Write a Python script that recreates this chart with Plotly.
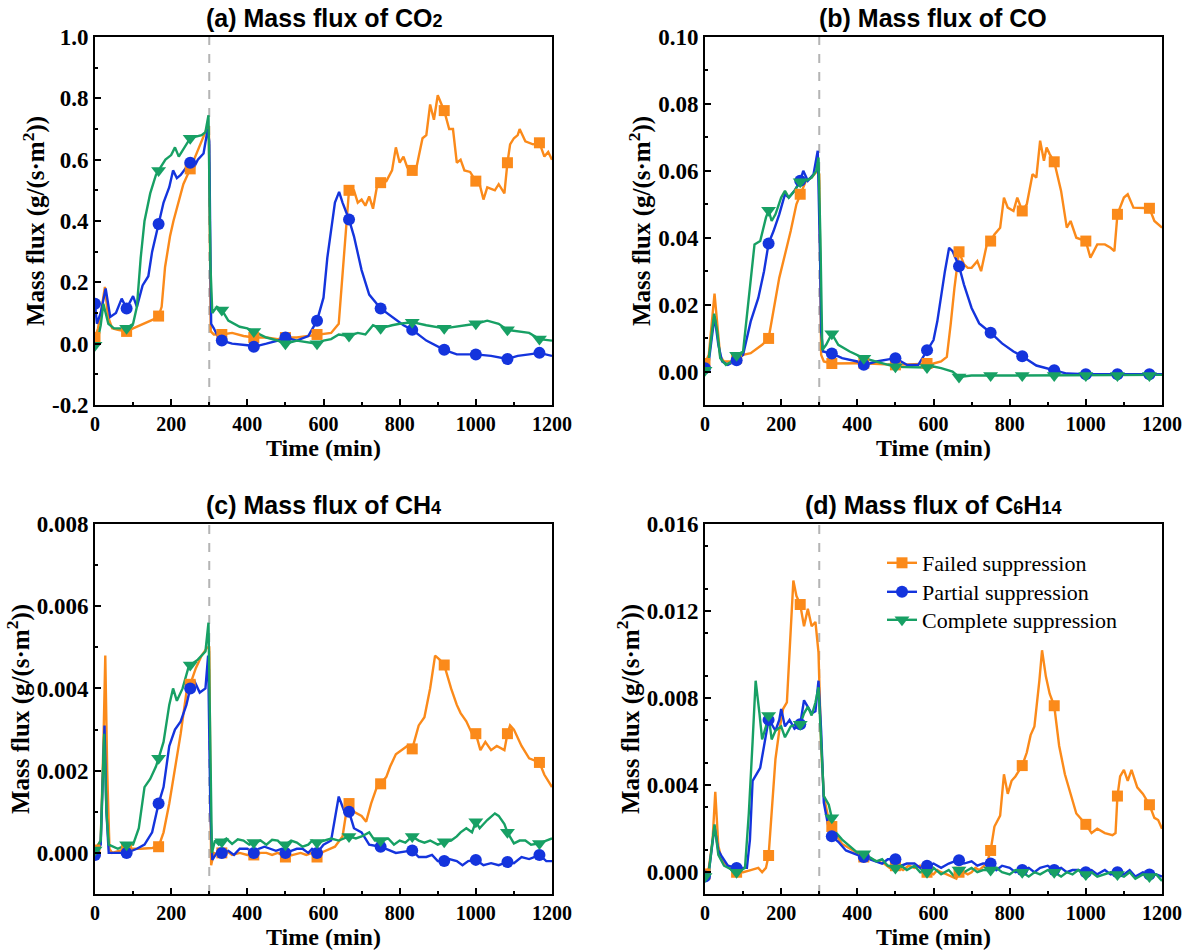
import plotly.graph_objects as go

# ---------------- data ----------------
MARK_T = [0, 83, 167, 250, 333, 417, 500, 583, 667, 750, 833, 917, 1000, 1083, 1167]

# (a) CO2
A_FAIL_T = [0, 8, 18, 26, 34, 45, 60, 83, 100, 120, 140, 155, 167, 175, 184, 197, 206, 219, 232, 250,
            267, 280, 293, 299, 304, 312, 333, 360, 390, 417, 450, 480, 500, 530, 560, 583, 600, 620, 640, 650,
            660, 667, 680, 690, 700, 710, 720, 730, 740, 750, 765, 780, 790, 800, 810, 820, 833, 840, 850, 860,
            870, 880, 890, 900, 910, 917, 930, 940, 950, 960, 970, 985, 1000, 1010, 1020, 1030, 1050, 1060, 1075, 1083,
            1090, 1100, 1110, 1115, 1130, 1150, 1167, 1180, 1190, 1200]
A_FAIL_V = [0.02, 0.05, 0.12, 0.185, 0.09, 0.05, 0.045, 0.04, 0.05, 0.06, 0.07, 0.08, 0.09, 0.12, 0.25, 0.35, 0.40, 0.46, 0.52, 0.57,
            0.62, 0.66, 0.70, 0.71, 0.04, 0.03, 0.03, 0.035, 0.025, 0.02, 0.02, 0.015, 0.02, 0.02, 0.025, 0.03, 0.033, 0.035, 0.065, 0.23,
            0.41, 0.50, 0.50, 0.46, 0.47, 0.45, 0.48, 0.44, 0.51, 0.525, 0.53, 0.565, 0.64, 0.59, 0.61, 0.575, 0.565, 0.55, 0.61, 0.67,
            0.68, 0.78, 0.73, 0.81, 0.78, 0.76, 0.70, 0.70, 0.59, 0.60, 0.565, 0.56, 0.53, 0.52, 0.47, 0.51, 0.50, 0.52, 0.49, 0.59,
            0.65, 0.67, 0.68, 0.70, 0.66, 0.65, 0.655, 0.61, 0.625, 0.60]
A_PART_T = [0, 5, 15, 28, 40, 55, 70, 83, 100, 110, 125, 140, 150, 167, 180, 195, 205, 215, 225, 240,
            250, 262, 270, 285, 296, 300, 305, 312, 320, 333, 360, 400, 417, 450, 480, 500, 530, 560, 583, 600,
            610, 620, 630, 641, 650, 667, 680, 700, 720, 750, 780, 810, 833, 870, 917, 950, 1000, 1040, 1083, 1110,
            1140, 1167, 1200]
A_PART_V = [0.13, 0.065, 0.10, 0.18, 0.087, 0.10, 0.147, 0.115, 0.155, 0.12, 0.19, 0.22, 0.30, 0.39, 0.46, 0.51, 0.565, 0.54, 0.55, 0.575,
            0.59, 0.58, 0.60, 0.62, 0.70, 0.66, 0.065, 0.05, 0.03, 0.01, 0.0, -0.005, -0.01, 0.0, 0.01, 0.02, 0.01, 0.025, 0.075, 0.15,
            0.28, 0.37, 0.46, 0.495, 0.46, 0.405, 0.35, 0.24, 0.16, 0.115, 0.087, 0.06, 0.045, 0.01, -0.02, -0.035, -0.035, -0.04, -0.05, -0.04,
            -0.035, -0.03, -0.04]
A_COMP_T = [0, 5, 15, 22, 35, 50, 70, 83, 100, 110, 120, 130, 145, 160, 167, 185, 200, 210, 220, 240,
            250, 265, 280, 290, 298, 303, 308, 320, 333, 350, 380, 400, 417, 450, 480, 500, 530, 560, 583, 600,
            620, 640, 667, 690, 710, 730, 750, 780, 800, 833, 870, 917, 950, 1000, 1030, 1060, 1083, 1110, 1140, 1167,
            1200]
A_COMP_V = [-0.005, 0.0, 0.06, 0.13, 0.065, 0.05, 0.05, 0.05, 0.065, 0.12, 0.28, 0.40, 0.49, 0.55, 0.565, 0.60, 0.615, 0.64, 0.61, 0.65,
            0.67, 0.675, 0.68, 0.69, 0.745, 0.26, 0.10, 0.12, 0.11, 0.075, 0.055, 0.05, 0.04, 0.02, 0.01, 0.0, 0.01, 0.005, 0.0, 0.01,
            0.015, 0.03, 0.025, 0.035, 0.03, 0.06, 0.05, 0.06, 0.065, 0.07, 0.06, 0.05, 0.055, 0.065, 0.075, 0.065, 0.045, 0.04, 0.035, 0.015,
            0.01]

# (b) CO
B_FAIL_T = [0, 10, 25, 33, 40, 50, 70, 83, 100, 120, 150, 167, 175, 185, 195, 210, 225, 240, 250, 265,
            280, 295, 300, 305, 312, 333, 400, 417, 500, 583, 600, 620, 635, 645, 655, 667, 680, 690, 700, 715,
            725, 740, 750, 760, 775, 785, 795, 810, 820, 833, 845, 860, 870, 880, 890, 897, 905, 917, 935, 950,
            960, 975, 1000, 1012, 1030, 1050, 1065, 1075, 1083, 1100, 1110, 1125, 1150, 1167, 1180, 1200]
B_FAIL_V = [0.0024, 0.005, 0.0233, 0.013, 0.0045, 0.003, 0.003, 0.004, 0.005, 0.0055, 0.008, 0.0099, 0.015, 0.022, 0.028, 0.035, 0.042, 0.050, 0.053, 0.057,
            0.058, 0.060, 0.059, 0.005, 0.003, 0.0024, 0.0025, 0.0025, 0.002, 0.0024, 0.0024, 0.003, 0.0044, 0.014, 0.025, 0.0358, 0.032, 0.031, 0.031, 0.033,
            0.030, 0.038, 0.039, 0.041, 0.043, 0.052, 0.049, 0.048, 0.052, 0.048, 0.050, 0.059, 0.058, 0.069, 0.063, 0.067, 0.065, 0.0627, 0.054, 0.043,
            0.045, 0.040, 0.039, 0.034, 0.038, 0.038, 0.037, 0.036, 0.047, 0.052, 0.053, 0.049, 0.049, 0.0488, 0.045, 0.043]
B_PART_T = [0, 10, 25, 35, 45, 60, 83, 100, 120, 140, 155, 167, 180, 195, 210, 220, 235, 250, 258, 270,
            285, 296, 302, 305, 310, 333, 360, 400, 417, 450, 500, 530, 560, 583, 600, 610, 620, 630, 641, 650,
            667, 680, 700, 720, 750, 780, 810, 833, 870, 917, 950, 1000, 1083, 1167, 1200]
B_PART_V = [0.001, 0.003, 0.0165, 0.008, 0.003, 0.002, 0.0034, 0.005, 0.015, 0.022, 0.030, 0.0383, 0.042, 0.047, 0.053, 0.052, 0.054, 0.057, 0.060, 0.057,
            0.059, 0.066, 0.035, 0.012, 0.006, 0.0054, 0.004, 0.003, 0.002, 0.003, 0.004, 0.002, 0.002, 0.0064, 0.0094, 0.015, 0.023, 0.030, 0.037, 0.036,
            0.0315, 0.026, 0.019, 0.0144, 0.0116, 0.0084, 0.006, 0.0046, 0.0018, 0.0004, -0.0006, -0.0008, -0.0008, -0.0008, -0.0008]
B_COMP_T = [0, 10, 24, 32, 40, 55, 70, 83, 100, 115, 130, 145, 160, 167, 175, 185, 200, 210, 220, 235,
            250, 265, 280, 292, 298, 303, 308, 318, 333, 350, 380, 417, 450, 500, 583, 600, 620, 650, 667, 700,
            750, 833, 917, 1000, 1083, 1167, 1200]
B_COMP_V = [0.0004, 0.004, 0.0173, 0.012, 0.004, 0.002, 0.003, 0.0049, 0.006, 0.022, 0.038, 0.039, 0.046, 0.0482, 0.045, 0.047, 0.052, 0.054, 0.052, 0.054,
            0.0567, 0.057, 0.058, 0.060, 0.064, 0.04, 0.0064, 0.008, 0.0113, 0.008, 0.006, 0.004, 0.003, 0.0014, 0.0012, 0.0015, 0.001, 0.0, -0.0016, -0.0012,
            -0.0012, -0.0012, -0.0012, -0.0012, -0.0012, -0.0012, -0.001]

# (c) CH4
C_FAIL_T = [0, 15, 22, 27, 32, 38, 45, 83, 120, 150, 167, 180, 195, 210, 225, 240, 250, 265, 280, 295,
            300, 305, 312, 325, 333, 345, 360, 380, 400, 417, 435, 450, 465, 480, 500, 520, 540, 555, 570, 583,
            600, 630, 650, 660, 667, 680, 700, 712, 725,
            740, 750, 765, 775, 790, 805, 820, 833, 850, 865, 880, 893, 905, 917, 935, 950, 960, 975, 990, 1000,
            1012, 1025, 1040, 1055, 1075, 1083, 1090, 1100, 1120, 1140, 1167, 1180, 1200]
C_FAIL_V = [0.00007, 0.0003, 0.0026, 0.0048, 0.002, 0.0001, 0.0, 0.0001, 0.0001, 0.00012, 0.00015, 0.0005, 0.0012, 0.002, 0.0029, 0.0039, 0.0041, 0.0045, 0.0048, 0.005,
            0.005, -0.0003, 0.0, -0.00005, 0.0, 0.00005, -0.00005, 0.0, -0.00005, -0.00005, 0.0, 0.0, -0.00005, 0.0, -0.0001, -0.00005, 0.0, -0.00005, 0.0, -0.0001,
            0.00003, 0.00015, 0.0004, 0.001, 0.0012, 0.001, 0.0009, 0.00076, 0.0012,
            0.0016, 0.00168, 0.00185, 0.0021, 0.0024, 0.0025, 0.0026, 0.00253, 0.0031, 0.0033, 0.004, 0.0048, 0.0047, 0.00457, 0.004, 0.0036, 0.0034, 0.0032, 0.0029, 0.0029,
            0.0025, 0.0027, 0.0025, 0.0026, 0.0025, 0.0029, 0.0031, 0.003, 0.0026, 0.0023, 0.0022, 0.0019, 0.0016]
C_PART_T = [0, 15, 25, 30, 36, 60, 83, 110, 130, 150, 167, 180, 195, 210, 225, 240, 250, 260, 275, 290,
            297, 303, 308, 320, 333, 350, 365, 380, 400, 417, 430, 445, 460, 475, 490, 500, 515, 530, 545, 560,
            570, 583, 600, 620, 640, 655, 667, 680, 700, 720, 750, 790,
            833, 850, 870, 885, 900, 917, 930, 950, 965, 980, 1000, 1020, 1040, 1060, 1083, 1100, 1120, 1140, 1155, 1167, 1185, 1200]
C_PART_V = [-0.00005, 0.0002, 0.0031, 0.001, 0.0, 0.0, 0.0, 0.0001, 0.0002, 0.0005, 0.0012, 0.0016, 0.0026, 0.003, 0.0032, 0.0036, 0.004, 0.0042, 0.0039, 0.004,
            0.0048, 0.001, -0.00017, 0.0, 0.0, 0.00005, -0.00005, 0.0001, 0.0001, 0.0, 0.0001, 0.00015, 0.0001, 0.00005, 0.0001, 0.0, 0.00005, 0.0001, 0.0001, 0.0,
            0.0001, 0.0, 0.0002, 0.0003, 0.00137, 0.001, 0.001, 0.0006, 0.0005, 0.0002, 0.00015, 0.0,
            0.00006, -0.0001, -0.0001, -0.00005, -0.0002, -0.0002, -0.00015, -0.0002, -0.0003, -0.0002, -0.00017, -0.0003, -0.00025, -0.0003, -0.00022, -0.00025, -0.0001, -0.00015, -0.0001, -0.00005, -0.0002, -0.0002]
C_COMP_T = [0, 15, 24, 30, 36, 60, 83, 100, 115, 130, 145, 160, 167, 180, 195, 205, 215, 230, 245, 250,
            270, 290, 298, 303, 307, 315, 325, 333, 345, 360, 375, 390, 405, 417, 435, 450, 465, 480, 490, 500,
            515, 530, 545, 560, 570, 583, 600, 620, 640, 667, 685, 700, 720, 735, 750, 770, 785, 800, 815, 833,
            850, 865, 880, 900, 917, 935, 950, 960, 975, 990, 1000, 1010, 1030, 1050, 1060, 1075, 1083, 1100, 1115, 1130,
            1145, 1167, 1185, 1200]
C_COMP_V = [0.00007, 0.0003, 0.0029, 0.001, 0.0002, 0.0001, 0.0002, 0.0002, 0.0006, 0.0016, 0.0018, 0.0021, 0.0023, 0.0027, 0.0036, 0.004, 0.0037, 0.004, 0.0045, 0.00457,
            0.0047, 0.0049, 0.0056, 0.002, 0.0, 0.0003, 0.0002, 0.00027, 0.00035, 0.00022, 0.00033, 0.0003, 0.0002, 0.00025, 0.0003, 0.0002, 0.00032, 0.0003, 0.0002, 0.0002,
            0.0003, 0.00025, 0.00015, 0.0002, 0.0003, 0.00025, 0.0003, 0.00035, 0.0003, 0.0004, 0.00035, 0.0004, 0.0005, 0.0003, 0.0003, 0.00035, 0.0002, 0.0003, 0.00025, 0.0004,
            0.0003, 0.00025, 0.0003, 0.0002, 0.00027, 0.0003, 0.0004, 0.0005, 0.0006, 0.0005, 0.00076, 0.0006, 0.0008, 0.00096, 0.0009, 0.0007, 0.0005, 0.00023, 0.0003, 0.0003,
            0.0002, 0.00023, 0.0003, 0.00035]

# (d) C6H14
D_FAIL_T = [0, 10, 20, 27, 35, 45, 60, 75, 83, 100, 120, 140, 150, 160, 167, 175, 185, 195, 205, 215,
            222, 232, 240, 250, 260, 270, 280, 290, 298, 305, 312, 325, 333, 340, 360, 380,
            400, 417, 435, 450, 470, 485, 500, 520, 535, 550, 565, 583, 600, 610, 620, 635, 650, 660, 667, 680,
            690, 700, 710, 720, 740, 750, 760, 775, 785, 795, 805, 815, 833, 845,
            855, 865, 878, 885, 895, 905, 917, 930, 945, 960, 975, 990, 1000, 1015, 1030, 1050, 1070, 1078, 1083, 1090,
            1100, 1110, 1120, 1135, 1150, 1167, 1180, 1190, 1200]
D_FAIL_V = [-0.00008, 0.0002, 0.0015, 0.0037, 0.0012, 0.0005, 0.0003, 0.0, 0.0, 0.0, 0.0001, 0.0002, 0.0, 0.0002, 0.00077, 0.0027, 0.0052, 0.0065, 0.0075, 0.0078,
            0.0104, 0.0134, 0.0127, 0.0123, 0.0113, 0.0121, 0.0113, 0.0115, 0.0101, 0.0058, 0.0035, 0.0024, 0.0021, 0.0018, 0.0013, 0.0011,
            0.0009, 0.0007, 0.0006, 0.0005, 0.0004, 0.0002, 0.0003, 0.0001, 0.0003, 0.0002, 0.0003, 0.0, -0.0001, 0.0001, 0.0, -0.0001, -0.0002, -0.0003, 0.0, 0.0,
            -0.0001, 0.0, 0.0002, 0.0001, 0.0004, 0.001, 0.0021, 0.0026, 0.0045, 0.0036, 0.0042, 0.0044, 0.0049, 0.0055,
            0.0063, 0.0067, 0.0088, 0.0102, 0.009, 0.0082, 0.00765, 0.0058, 0.0045, 0.0036, 0.0027, 0.0024, 0.0022, 0.0018, 0.002, 0.0018, 0.0017, 0.0018, 0.0035, 0.0044,
            0.0047, 0.0042, 0.0047, 0.0039, 0.0036, 0.0031, 0.0025, 0.0024, 0.002]
D_PART_T = [0, 10, 25, 35, 45, 60, 83, 100, 110, 118, 125, 135, 145, 155, 167, 175, 185, 195, 200, 210,
            222, 235, 250, 260, 270, 280, 290, 298, 305, 312, 325, 333, 350, 370,
            400, 417, 430, 450, 465, 480, 500, 515, 530, 550, 565, 583, 600, 620, 640, 655, 667, 680, 700, 715,
            730, 750, 765, 780, 800, 815, 833, 850, 865, 880, 900, 917, 935, 950, 965, 980, 1000, 1015, 1030, 1050,
            1065, 1083, 1100, 1115, 1130, 1150, 1167, 1185, 1200]
D_PART_V = [-0.0002, 0.0, 0.0021, 0.001, 0.0007, 0.0003, 0.0002, 0.0002, 0.0002, 0.0015, 0.0042, 0.0045, 0.0048, 0.0058, 0.007, 0.0068, 0.0065, 0.007, 0.0075, 0.0067,
            0.007, 0.0066, 0.0068, 0.0079, 0.0076, 0.0073, 0.0074, 0.0088, 0.0065, 0.0032, 0.002, 0.00165, 0.0014, 0.001,
            0.0008, 0.0007, 0.0006, 0.0005, 0.0004, 0.0006, 0.0006, 0.0003, 0.0004, 0.0004, 0.0002, 0.0003, 0.0004, 0.0002, 0.0004, 0.0005, 0.00055, 0.0004, 0.0005, 0.0003,
            0.0004, 0.0004, 0.0001, 0.0003, 0.0002, 0.0, 0.0001, 0.0002, 0.0, 0.0002, 0.0003, 0.0001, 0.0002, 0.0, 0.0001, 0.0001, 0.0, 0.0001, -0.0001, 0.0001,
            -0.0001, 0.0, -0.0001, 0.0001, -0.0002, 0.0, -0.0001, -0.0001, -0.0002]
D_COMP_T = [0, 10, 25, 35, 50, 83, 105, 115, 125, 133, 143, 150, 160, 167, 175, 185, 200, 210, 225, 240,
            250, 260, 270, 280, 290, 298, 305, 312, 325, 333, 345, 360, 380,
            400, 417, 430, 450, 465, 480, 500, 515, 530, 550, 565, 583, 600, 620, 640, 655, 667, 680, 700, 715,
            730, 750, 765, 780, 800, 815, 833, 850, 865, 880, 900, 917, 935, 950, 965, 980, 1000, 1015, 1030, 1050,
            1065, 1083, 1100, 1115, 1130, 1150, 1167, 1185, 1200]
D_COMP_V = [-0.0002, 0.0, 0.0022, 0.0008, 0.0003, 0.0, 0.0002, 0.0027, 0.006, 0.0088, 0.0073, 0.0061, 0.0067, 0.0072, 0.0061, 0.0065, 0.0067, 0.0062, 0.0067, 0.0068,
            0.0068, 0.0073, 0.0076, 0.0072, 0.0078, 0.0085, 0.006, 0.0035, 0.0031, 0.0025, 0.0018, 0.0015, 0.0012,
            0.0009, 0.00085, 0.0007, 0.0005, 0.0006, 0.0003, 0.0002, 0.0003, 0.0001, 0.0003, 0.0, 0.0, 0.0002, -0.0001, 0.0001, -0.0002, 0.0001, 0.0, 0.0002, 0.0,
            0.0001, 0.0001, 0.0002, 0.0, -0.0001, 0.0001, 0.0, -0.0002, 0.0, -0.0001, 0.0001, 0.0, -0.0002, 0.0, -0.0001, 0.0001, -0.0001, 0.0, -0.0002, -0.0001,
            0.0, -0.0001, -0.0002, 0.0, -0.0003, -0.0001, -0.0002, -0.0001, -0.0004]

X_TICKS = [0, 200, 400, 600, 800, 1000, 1200]
X_TICKTEXT = ["0", "200", "400", "600", "800", "1000", "1200"]
A_YTICKS = [-0.2, 0.0, 0.2, 0.4, 0.6, 0.8, 1.0]
A_YTEXT = ["-0.2", "0.0", "0.2", "0.4", "0.6", "0.8", "1.0"]
B_YTICKS = [0.0, 0.02, 0.04, 0.06, 0.08, 0.10]
B_YTEXT = ["0.00", "0.02", "0.04", "0.06", "0.08", "0.10"]
C_YTICKS = [0.0, 0.002, 0.004, 0.006, 0.008]
C_YTEXT = ["0.000", "0.002", "0.004", "0.006", "0.008"]
D_YTICKS = [0.0, 0.004, 0.008, 0.012, 0.016]
D_YTEXT = ["0.000", "0.004", "0.008", "0.012", "0.016"]

NAMES = ["Failed suppression", "Partial suppression", "Complete suppression"]
COLORS = ["#FB8A1A", "#1434DD", "#17A064"]
SYMBOLS = ["square", "circle", "triangle-down"]
MSIZES = [11, 12, 13]

SUB = "<span style='font-size:18px'>"
panels = [
    dict(series=[(A_FAIL_T, A_FAIL_V), (A_PART_T, A_PART_V), (A_COMP_T, A_COMP_V)],
         yrange=[-0.2, 1.0], yticks=A_YTICKS, ytext=A_YTEXT, yminor=0.1,
         title="<b>(a) Mass flux of CO" + SUB + "2</span></b>",
         xdom=[95, 552], ydom=[37, 405]),
    dict(series=[(B_FAIL_T, B_FAIL_V), (B_PART_T, B_PART_V), (B_COMP_T, B_COMP_V)],
         yrange=[-0.01, 0.10], yticks=B_YTICKS, ytext=B_YTEXT, yminor=0.01,
         title="<b>(b) Mass flux of CO</b>",
         xdom=[705, 1162], ydom=[37, 405]),
    dict(series=[(C_FAIL_T, C_FAIL_V), (C_PART_T, C_PART_V), (C_COMP_T, C_COMP_V)],
         yrange=[-0.001, 0.008], yticks=C_YTICKS, ytext=C_YTEXT, yminor=0.001,
         title="<b>(c) Mass flux of CH" + SUB + "4</span></b>",
         xdom=[95, 552], ydom=[524, 894]),
    dict(series=[(D_FAIL_T, D_FAIL_V), (D_PART_T, D_PART_V), (D_COMP_T, D_COMP_V)],
         yrange=[-0.001, 0.016], yticks=D_YTICKS, ytext=D_YTEXT, yminor=0.002,
         title="<b>(d) Mass flux of C" + SUB + "6</span>H" + SUB + "14</span></b>",
         xdom=[705, 1162], ydom=[524, 894]),
]

W, H = 1189, 952
fig = go.Figure()
xtickfont = dict(family="Liberation Serif", size=20, color="black", weight="bold")
ytickfont = dict(family="Liberation Serif", size=23, color="black", weight="bold")
xtitlefont = dict(family="Liberation Serif", size=24, color="black")
ytitlefont = dict(family="Liberation Serif", size=25, color="black")
layout_axes = {}
annotations = []
shapes = []
for i, p in enumerate(panels):
    sfx = "" if i == 0 else str(i + 1)
    xa, ya = "x" + sfx, "y" + sfx
    for k, (t, v) in enumerate(p["series"]):
        fig.add_trace(go.Scatter(x=t, y=v, mode="lines", xaxis=xa, yaxis=ya,
                                 line=dict(color=COLORS[k], width=2.4), showlegend=False,
                                 hoverinfo="skip"))
    for k, (t, v) in enumerate(p["series"]):
        mt = [tt for tt in t if tt in MARK_T]
        mv = [vv for tt, vv in zip(t, v) if tt in MARK_T]
        fig.add_trace(go.Scatter(x=mt, y=mv, mode="markers", xaxis=xa, yaxis=ya,
                                 marker=dict(color=COLORS[k], symbol=SYMBOLS[k], size=MSIZES[k], line=dict(width=0)),
                                 showlegend=False))
    x0, x1 = p["xdom"]
    y0, y1 = p["ydom"]
    lo, hi = p["yrange"]
    n = round((hi - lo) / p["yminor"])
    yminor_vals = [lo + j * p["yminor"] for j in range(n + 1)]
    layout_axes["xaxis" + sfx] = dict(
        domain=[x0 / W, x1 / W], range=[0, 1200], anchor=ya, automargin=False,
        tickmode="array", tickvals=X_TICKS, ticktext=X_TICKTEXT,
        ticks="inside", ticklen=6, tickwidth=2, tickcolor="black",
        minor=dict(tickmode="array", tickvals=list(range(0, 1201, 100)), ticks="inside", ticklen=3, tickwidth=2, tickcolor="black"),
        showline=True, linewidth=2, linecolor="black", mirror=True,
        showgrid=False, zeroline=False, tickfont=xtickfont,
        title=dict(text="<b>Time (min)</b>", font=xtitlefont, standoff=1))
    layout_axes["yaxis" + sfx] = dict(
        domain=[1 - y1 / H, 1 - y0 / H], range=[lo, hi], anchor=xa, automargin=False,
        tickmode="array", tickvals=p["yticks"], ticktext=p["ytext"],
        ticks="inside", ticklen=6, tickwidth=2, tickcolor="black",
        minor=dict(tickmode="array", tickvals=yminor_vals, ticks="inside", ticklen=3, tickwidth=2, tickcolor="black"),
        showline=True, linewidth=2, linecolor="black", mirror=True,
        showgrid=False, zeroline=False, tickfont=ytickfont,
        title=dict(text="<b>Mass flux (g/(s·m<sup>2</sup>))</b>", font=ytitlefont, standoff=0))
    annotations.append(dict(text=p["title"], x=(x0 + x1) / 2 / W, y=1 - (y0 - 19) / H,
                            xref="paper", yref="paper", xanchor="center", yanchor="middle",
                            showarrow=False, font=dict(family="Liberation Sans", size=25, color="black")))
    shapes.append(dict(type="line", xref=xa, yref=ya + " domain", x0=300, x1=300, y0=0, y1=1,
                       line=dict(color="#B4B4B4", width=2, dash="dash"), layer="below"))

# legend-only traces (panel d), one legend per row
LEG_IDS = ["legend", "legend2", "legend3"]
LEG_ROW_Y = [563, 592, 620]
for k in range(3):
    fig.add_trace(go.Scatter(x=[None], y=[None], mode="lines+markers", name=NAMES[k],
                             xaxis="x4", yaxis="y4", legend=LEG_IDS[k],
                             line=dict(color=COLORS[k], width=2.4),
                             marker=dict(color=COLORS[k], symbol=SYMBOLS[k], size=MSIZES[k])))

legend_common = dict(x=882 / W, xanchor="left", yanchor="middle",
                     bgcolor="rgba(0,0,0,0)", borderwidth=0,
                     font=dict(family="Liberation Serif", size=22, color="black"))
legends = {}
for k in range(3):
    legends[LEG_IDS[k]] = dict(legend_common, y=1 - LEG_ROW_Y[k] / H)

fig.update_layout(
    template="none",
    width=W, height=H, autosize=False,
    margin=dict(l=0, r=0, t=0, b=0, autoexpand=False),
    paper_bgcolor="white", plot_bgcolor="white",
    annotations=annotations, shapes=shapes,
    **legends,
    **layout_axes)

fig.write_html("out.html")
